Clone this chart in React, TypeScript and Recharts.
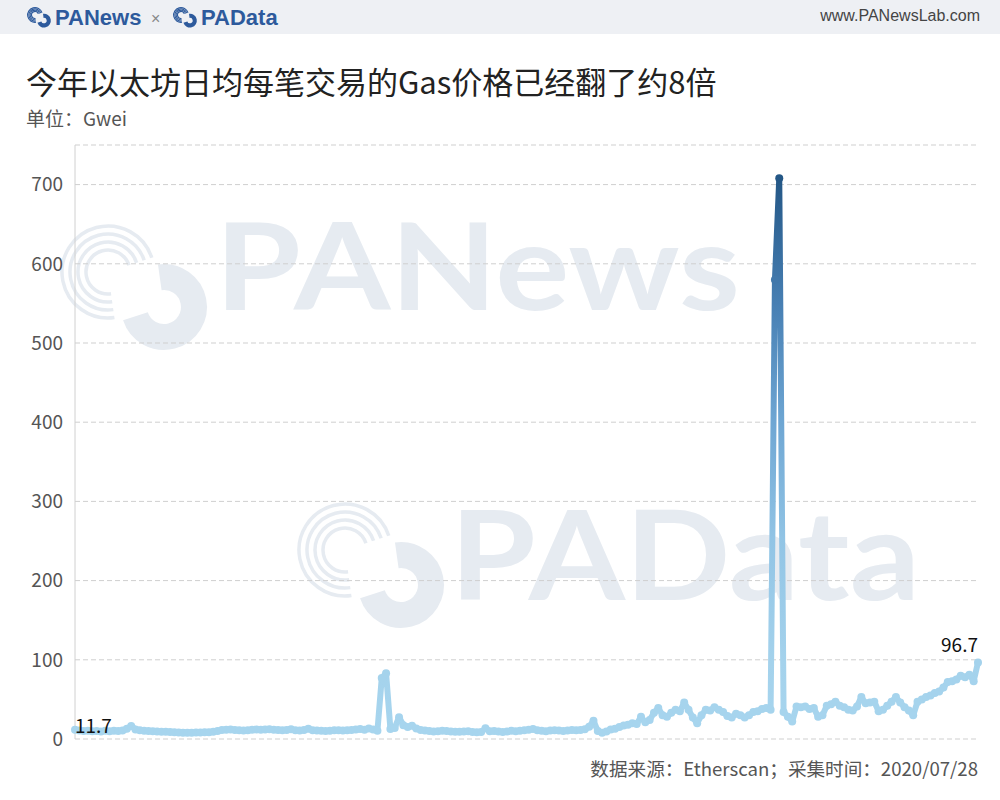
import { LineChart, Line, XAxis, YAxis, CartesianGrid } from "recharts";

// daily average gas price per tx, 2020-01-01 .. 2020-07-28 (Gwei)
const gasPrice = [
  11.7, 10.8, 10.2, 10.5, 9.8, 10.1, 9.6, 10.3, 9.9, 10.4,
  10.0, 10.6, 12.8, 16.5, 12.1, 10.9, 10.3, 10.0, 9.7, 9.5,
  9.2, 9.0, 8.8, 8.5, 8.2, 8.0, 7.8, 7.9, 8.1, 8.3,
  8.4, 8.6, 9.0, 10.2, 11.3, 11.6, 12.0, 11.5, 11.1, 10.8,
  11.2, 11.8, 12.1, 11.6, 11.9, 12.3, 11.7, 11.4, 10.9, 11.5,
  12.4, 11.0, 10.6, 11.3, 12.9, 11.2, 10.8, 10.5, 10.1, 10.4,
  10.9, 11.2, 10.7, 11.0, 11.4, 11.9, 12.5, 11.8, 13.2, 12.1,
  10.3, 77.0, 83.0, 12.5, 14.0, 27.5, 17.5, 15.0, 16.8, 13.2,
  11.5, 10.8, 10.2, 9.6, 9.9, 10.4, 10.1, 9.5, 9.2, 9.0,
  9.4, 9.8, 8.9, 8.6, 8.8, 13.5, 9.7, 10.2, 9.5, 8.7,
  9.6, 10.3, 9.8, 10.5, 11.0, 11.8, 12.6, 11.2, 10.4, 9.9,
  10.6, 11.1, 10.7, 10.2, 10.8, 11.3, 10.9, 11.5, 12.2, 15.5,
  23.0, 10.0, 8.0, 9.5, 12.0, 13.0, 15.0, 17.0, 18.0, 20.0,
  19.0, 28.0, 21.0, 24.0, 33.0, 39.0, 30.0, 28.0, 33.0, 37.0,
  35.0, 46.0, 37.0, 27.0, 20.0, 30.0, 37.0, 36.0, 40.0, 37.0,
  34.0, 29.0, 27.0, 32.0, 30.0, 27.0, 30.0, 34.0, 35.0, 38.0,
  39.0, 37.0, 580.0, 708.0, 34.0, 28.0, 22.0, 41.0, 40.0, 41.0,
  38.0, 39.0, 28.0, 30.0, 42.0, 44.0, 47.0, 42.0, 40.0, 37.0,
  36.0, 41.0, 53.0, 45.0, 46.0, 47.0, 35.0, 37.0, 42.0, 47.0,
  53.0, 46.0, 40.0, 36.0, 30.0, 47.0, 50.0, 53.0, 55.0, 58.0,
  60.0, 65.0, 72.0, 73.0, 75.0, 80.0, 78.0, 81.0, 73.0, 96.7,
];

const yTicks = [0, 100, 200, 300, 400, 500, 600, 700];

const days: string[] = [];
for (let i = 0; i < gasPrice.length; i++) {
  const d = new Date(2020, 0, 1 + i);
  days.push(`${String(d.getMonth() + 1).padStart(2, "0")}/${String(d.getDate()).padStart(2, "0")}`);
}

const data = days.map((day, i) => ({ day, price: gasPrice[i] }));

const minV = Math.min(...gasPrice);
const maxV = Math.max(...gasPrice);

// colour ramp by value (visual map)
const ramp: [number, number[]][] = [
  [0, [167, 213, 238]],
  [0.13, [164, 210, 236]],
  [0.35, [145, 196, 229]],
  [0.56, [110, 166, 211]],
  [0.77, [72, 128, 180]],
  [1, [36, 87, 134]],
];

function colorFor(v: number) {
  const t = (v - minV) / (maxV - minV);
  for (let i = 1; i < ramp.length; i++) {
    if (t <= ramp[i][0]) {
      const [t0, c0] = ramp[i - 1];
      const [t1, c1] = ramp[i];
      const k = (t - t0) / (t1 - t0);
      const c = c0.map((x, j) => Math.round(x + (c1[j] - x) * k));
      return `rgb(${c[0]},${c[1]},${c[2]})`;
    }
  }
  return "rgb(36,87,134)";
}

const font = '"Noto Sans CJK SC", "Noto Sans", sans-serif';
const mark = "#e6ebf1";

// thin outlined "C" + bold reversed "C", tilted
function Logo({ x, y, s, color, thin = 3.5 }: { x: number; y: number; s: number; color: string; thin?: number }) {
  const d = 66;
  const R = 30;
  const a = 0.643;
  const b = 0.766;
  return (
    <g transform={`translate(${x} ${y}) scale(${s}) rotate(32)`}>
      {[22, 30, 38, 46].map((r) => (
        <path
          key={r}
          d={`M ${a * r} ${-b * r} A ${r} ${r} 0 1 0 ${a * r} ${b * r}`}
          fill="none"
          stroke={color}
          strokeWidth={thin}
        />
      ))}
      <path
        d={`M ${d - a * R} ${-b * R} A ${R} ${R} 0 1 1 ${d - a * R} ${b * R}`}
        fill="none"
        stroke={color}
        strokeWidth={26}
      />
    </g>
  );
}

function Watermark() {
  return (
    <svg width={1000} height={800} style={{ position: "absolute", left: 0, top: 0 }}>
      <Logo x={108} y={272} s={1} color={mark} />
      <text x={215} y={310} textLength={525} lengthAdjust="spacingAndGlyphs" fontFamily="Lato, sans-serif" fontWeight={700} fontSize={120} fill={mark}>
        PANews
      </text>
      <Logo x={345} y={550} s={1} color={mark} />
      <text x={450} y={600} textLength={470} lengthAdjust="spacingAndGlyphs" fontFamily="Lato, sans-serif" fontWeight={700} fontSize={124} fill={mark}>
        PAData
      </text>
    </svg>
  );
}

function Header() {
  const navy = "#2d5a9c";
  const narrow = '"Liberation Sans Narrow", "Liberation Sans", sans-serif';
  return (
    <div style={{ position: "absolute", left: 0, top: 0, width: 1000, height: 34, background: "#eef0f4" }}>
      <svg width={300} height={34} style={{ position: "absolute", left: 0, top: 0 }}>
        <Logo x={35} y={15} s={0.16} color={navy} thin={7} />
        <text x={55} y={25} fontFamily={narrow} fontWeight={700} fontSize={22} fill={navy}>PANews</text>
        <text x={151} y={24} fontFamily={narrow} fontSize={16} fill="#888">×</text>
        <Logo x={181} y={15} s={0.16} color={navy} thin={7} />
        <text x={201} y={25} fontFamily={narrow} fontWeight={700} fontSize={22} fill={navy}>PAData</text>
      </svg>
      <div style={{ position: "absolute", right: 20, top: 7, fontFamily: narrow, fontSize: 16, color: "#444" }}>
        www.PANewsLab.com
      </div>
    </div>
  );
}

function renderDot(props: any) {
  const { cx, cy, value, index } = props;
  if (cx == null || cy == null) return <g key={`d${index}`} />;
  return <circle key={`d${index}`} cx={cx} cy={cy} r={4} fill={colorFor(value)} />;
}

function renderLabel(props: any) {
  const { x, y, index } = props;
  if (index === 0) {
    return (
      <text key="l0" x={x} y={y + 3} fontSize={19} fontFamily={font} fill="#111" textAnchor="start">
        {gasPrice[0]}
      </text>
    );
  }
  if (index === gasPrice.length - 1) {
    return (
      <text key="l1" x={x} y={y - 10} fontSize={19} fontFamily={font} fill="#111" textAnchor="end">
        {gasPrice[index]}
      </text>
    );
  }
  return <g key={`l${index}`} />;
}

export default function App() {
  return (
    <div style={{ position: "absolute", left: 0, top: 0, width: 1000, height: 800, background: "#fff", fontFamily: font }}>
      <Header />
      <div style={{ position: "absolute", left: 26, top: 61, fontSize: 31, color: "#222", whiteSpace: "nowrap", lineHeight: "40px" }}>
        今年以太坊日均每笔交易的Gas价格已经翻了约8倍
      </div>
      <div style={{ position: "absolute", left: 26, top: 104, fontSize: 19, color: "#555", lineHeight: "28px" }}>
        单位：Gwei
      </div>
      <Watermark />
      <div style={{ position: "absolute", left: 0, top: 0 }}>
        <LineChart width={1000} height={800} data={data} margin={{ top: 145, right: 22, bottom: 61, left: 14 }}>
          <defs>
            <linearGradient id="gasGrad" x1="0" y1="1" x2="0" y2="0">
              {ramp.map(([t, c]) => (
                <stop key={t} offset={t} stopColor={`rgb(${c[0]},${c[1]},${c[2]})`} />
              ))}
            </linearGradient>
          </defs>
          <CartesianGrid vertical={false} stroke="#cfcfcf" strokeDasharray="5 3" />
          <XAxis dataKey="day" hide />
          <YAxis
            domain={[0, 750]}
            ticks={yTicks}
            width={61}
            tickLine={false}
            tickMargin={6}
            axisLine={{ stroke: "#d0d0d0" }}
            tick={{ fill: "#555", fontSize: 19, fontFamily: font }}
          />
          <YAxis yAxisId="r" orientation="right" width={0} tick={false} tickLine={false} axisLine={{ stroke: "#d0d0d0" }} />
          <Line
            type="linear"
            dataKey="price"
            stroke="url(#gasGrad)"
            strokeWidth={6}
            strokeLinejoin="round"
            dot={renderDot}
            activeDot={false}
            label={renderLabel}
            isAnimationActive={false}
          />
        </LineChart>
      </div>
      <div style={{ position: "absolute", right: 22, top: 754, fontSize: 18.6, color: "#555", whiteSpace: "nowrap" }}>
        数据来源：Etherscan；采集时间：2020/07/28
      </div>
    </div>
  );
}
